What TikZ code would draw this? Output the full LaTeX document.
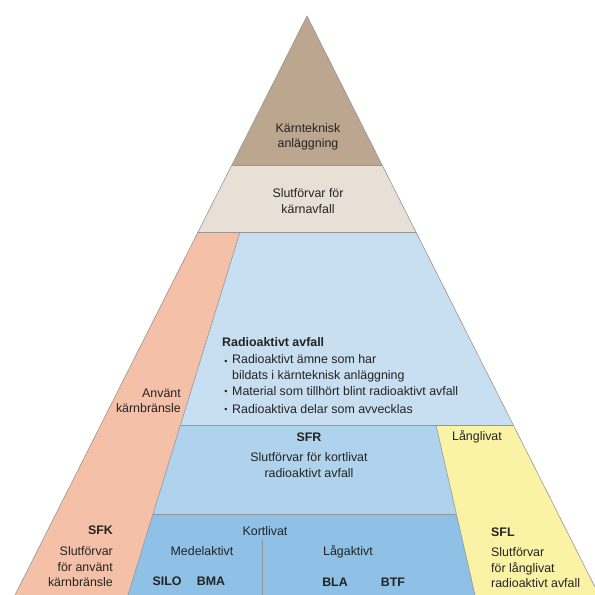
\documentclass[tikz,border=0pt]{standalone}
\usepackage{fontspec}
\setmainfont{Liberation Sans}
\definecolor{cbrown}{RGB}{188,166,143}
\definecolor{cbeige}{RGB}{232,224,214}
\definecolor{corange}{RGB}{245,192,168}
\definecolor{clblue}{RGB}{200,223,241}
\definecolor{cmblue}{RGB}{176,211,237}
\definecolor{cdblue}{RGB}{142,193,229}
\definecolor{cyellow}{RGB}{250,243,166}
\definecolor{cline}{RGB}{150,150,150}
\definecolor{ctext}{RGB}{35,35,35}
\tikzset{
  region/.style={draw=cline, line width=0.6pt, line join=round},
  lbl/.style={inner sep=0pt, text=ctext, font=\fontsize{12.4}{15.5}\selectfont, align=center},
  lbll/.style={lbl, align=left, anchor=west},
  lblr/.style={lbl, align=right, anchor=east},
  bold/.style={font=\fontsize{12.4}{15.5}\selectfont\bfseries},
  bul/.style={inner sep=0pt, text=ctext, font=\fontsize{9}{10}\selectfont}
}
\begin{document}
\begin{tikzpicture}[x=1pt,y=-1pt]
\useasboundingbox (0,0) rectangle (595,595);
\clip (0,0) rectangle (595,595);
% key points
\coordinate (apex) at (307,16);
\coordinate (l165) at (232,165); \coordinate (r165) at (382,165);
\coordinate (l232) at (198,232); \coordinate (r232) at (416,232);
\coordinate (o232) at (240,232);
\coordinate (l425) at (101,425); \coordinate (r425) at (513,425);
\coordinate (o425) at (180.5,425); \coordinate (y425) at (436,425);
\coordinate (o514) at (153,514); \coordinate (y514) at (456.4,514);
\coordinate (lb) at (15,595); \coordinate (rb) at (599,595);
\coordinate (ob) at (128,595); \coordinate (yb) at (475,595);
\coordinate (kt) at (262,540); \coordinate (kb) at (262,595);
% regions
\fill[cbrown] (apex) -- (r165) -- (l165) -- cycle;
\fill[cbeige] (l165) -- (r165) -- (r232) -- (l232) -- cycle;
\fill[corange] (l232) -- (o232) -- (ob) -- (lb) -- cycle;
\fill[clblue] (o232) -- (r232) -- (r425) -- (o425) -- cycle;
\fill[cmblue] (o425) -- (y425) -- (y514) -- (o514) -- cycle;
\fill[cyellow] (y425) -- (r425) -- (rb) -- (yb) -- cycle;
\fill[cdblue] (o514) -- (y514) -- (yb) -- (ob) -- cycle;
% lines
\draw[region] (lb) -- (apex) -- (rb);
\draw[region] (l165) -- (r165);
\draw[region] (l232) -- (r232);
\draw[region] (o232) -- (ob);
\draw[region] (o425) -- (r425);
\draw[region] (y425) -- (yb);
\draw[region] (o514) -- (y514);
\draw[region] (kt) -- (kb);
% texts
\node[lbl] (kta) at (308,137) {Kärnteknisk\\anläggning};
\node[lbl] (sfka) at (308,201) {Slutförvar för\\kärnavfall};
\node[lblr] (anv) at (181,401) {Använt\\kärnbränsle};
\node[lbll, bold] (ra) at (222,342) {Radioaktivt avfall};
\node[bul] (b1) at (226,362.5) {•};
\node[lbll] (t1) at (232,368.5) {Radioaktivt ämne som har\\bildats i kärnteknisk anläggning};
\node[bul] (b2) at (226,392.5) {•};
\node[lbll] (t2) at (232,391) {Material som tillhört blint radioaktivt avfall};
\node[bul] (b3) at (226,410.5) {•};
\node[lbll] (t3) at (232,409) {Radioaktiva delar som avvecklas};
\node[lbl, bold] (sfr) at (309,437) {SFR};
\node[lbl] (sfrt) at (309,465) {Slutförvar för kortlivat\\radioaktivt avfall};
\node[lbll] (lang) at (452,437) {Långlivat};
\node[lblr, bold] (sfk) at (113,530) {SFK};
\node[lblr] (sfkt) at (113,567) {Slutförvar\\för använt\\kärnbränsle};
\node[lbl] (kort) at (265,531) {Kortlivat};
\node[lbl] (medel) at (202,551) {Medelaktivt};
\node[lbl, bold] (silo) at (167,581) {SILO};
\node[lbl, bold] (bma) at (211,581) {BMA};
\node[lbl] (laga) at (348,552) {Lågaktivt};
\node[lbl, bold] (bla) at (335,582) {BLA};
\node[lbl, bold] (btf) at (393,582) {BTF};
\node[lbll, bold] (sfl) at (491,532) {SFL};
\node[lbll] (sflt) at (491,568) {Slutförvar\\för långlivat\\radioaktivt avfall};
\end{tikzpicture}
\end{document}
